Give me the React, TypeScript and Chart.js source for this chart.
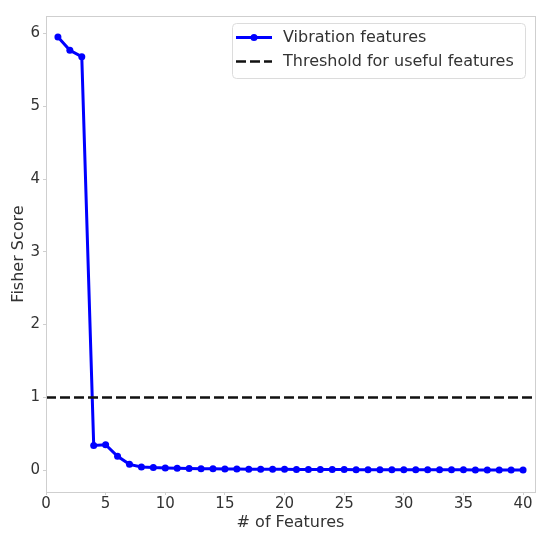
import React, { useEffect, useRef } from "react";
import { Chart, registerables } from "chart.js";

Chart.register(...registerables);

const featureCounts = [
  1, 2, 3, 4, 5, 6, 7, 8, 9, 10, 11, 12, 13, 14, 15, 16, 17, 18, 19, 20,
  21, 22, 23, 24, 25, 26, 27, 28, 29, 30, 31, 32, 33, 34, 35, 36, 37, 38, 39, 40,
];
const fisherScores = [
  5.95, 5.77, 5.68, 0.34, 0.35, 0.19, 0.08, 0.045, 0.035, 0.03,
  0.026, 0.023, 0.021, 0.019, 0.017, 0.015, 0.014, 0.013, 0.012, 0.011,
  0.01, 0.009, 0.009, 0.008, 0.008, 0.007, 0.007, 0.006, 0.006, 0.005,
  0.005, 0.005, 0.004, 0.004, 0.004, 0.003, 0.003, 0.003, 0.002, 0.002,
];
const thresholdValue = 1;
const thresholdSpan = [0, 41];
const xTickValues = [0, 5, 10, 15, 20, 25, 30, 35, 40];
const yTickValues = [0, 1, 2, 3, 4, 5, 6];
const seriesLabels = ["Vibration features", "Threshold for useful features"];
const axisTitles = { x: "# of Features", y: "Fisher Score" };

export default function App() {
  const ref = useRef<HTMLCanvasElement>(null);

  useEffect(() => {
    document.body.style.margin = "0";
    const FONT = "'DejaVu Sans', sans-serif";
    const TEXT = "#333333";
    const FRAME = "#cfcfcf";

    const framePlugin = {
      id: "frame",
      afterDatasetsDraw(chart: any) {
        const { ctx, chartArea: a } = chart;
        ctx.save();
        ctx.strokeStyle = FRAME;
        ctx.lineWidth = 1;
        const l = Math.round(a.left) + 0.5;
        const t = Math.round(a.top) + 0.5;
        const r = Math.round(a.right) + 0.5;
        const b = Math.round(a.bottom) + 0.5;
        ctx.strokeRect(l, t, r - l, b - t);
        ctx.restore();
      },
    };

    const legendPlugin = {
      id: "customLegend",
      afterDraw(chart: any) {
        const { ctx, chartArea: a } = chart;
        const w = 293;
        const h = 55;
        const x = a.right - 10 - w;
        const y = a.top + 7;
        ctx.save();
        ctx.beginPath();
        (ctx as any).roundRect(x + 0.5, y + 0.5, w, h, 4);
        ctx.fillStyle = "rgba(255,255,255,0.85)";
        ctx.fill();
        ctx.strokeStyle = "#dcdcdc";
        ctx.lineWidth = 1;
        ctx.stroke();
        chart.data.datasets.forEach((ds: any, i: number) => {
          const yr = y + 14.5 + i * 24;
          ctx.beginPath();
          ctx.setLineDash(ds.borderDash || []);
          ctx.strokeStyle = ds.borderColor;
          ctx.lineWidth = ds.borderWidth;
          ctx.moveTo(x + 4, yr);
          ctx.lineTo(x + 40, yr);
          ctx.stroke();
          ctx.setLineDash([]);
          if (ds.pointRadius > 0) {
            ctx.beginPath();
            ctx.arc(x + 22, yr, ds.pointRadius, 0, Math.PI * 2);
            ctx.fillStyle = ds.pointBackgroundColor;
            ctx.fill();
          }
          ctx.fillStyle = TEXT;
          ctx.font = `16px ${FONT}`;
          ctx.textBaseline = "middle";
          ctx.textAlign = "left";
          ctx.fillText(ds.label, x + 51, yr);
        });
        ctx.restore();
      },
    };

    const chart = new Chart(ref.current as HTMLCanvasElement, {
      type: "line",
      data: {
        datasets: [
          {
            label: seriesLabels[0],
            data: featureCounts.map((x, i) => ({ x, y: fisherScores[i] })),
            borderColor: "#0000ff",
            backgroundColor: "#0000ff",
            pointBackgroundColor: "#0000ff",
            pointBorderColor: "#0000ff",
            borderWidth: 3,
            pointRadius: 3.5,
            pointBorderWidth: 0,
            tension: 0,
            order: 1,
          },
          {
            label: seriesLabels[1],
            data: thresholdSpan.map((x) => ({ x, y: thresholdValue })),
            borderColor: "#111111",
            backgroundColor: "#111111",
            borderWidth: 2.5,
            borderDash: [10, 4],
            pointRadius: 0,
            tension: 0,
            order: 0,
          },
        ],
      },
      options: {
        responsive: false,
        animation: false,
        events: [],
        layout: { padding: { left: 6, top: 16, right: 15, bottom: 15.8 } },
        plugins: { legend: { display: false }, tooltip: { enabled: false } },
        font: { family: FONT },
        scales: {
          x: {
            type: "linear",
            min: 0,
            max: 41,
            afterBuildTicks: (s: any) => {
              s.ticks = xTickValues.map((v) => ({ value: v }));
            },
            border: { display: false },
            grid: { drawOnChartArea: false, drawTicks: true, tickLength: 3, color: FRAME },
            ticks: { color: TEXT, font: { family: FONT, size: 15 }, padding: 0, maxRotation: 0 },
            title: {
              display: true,
              text: axisTitles.x,
              color: TEXT,
              font: { family: FONT, size: 16 },
              padding: { top: 0, bottom: 0 },
            },
          },
          y: {
            type: "linear",
            min: -0.3,
            max: 6.24,
            afterBuildTicks: (s: any) => {
              s.ticks = yTickValues.map((v) => ({ value: v }));
            },
            afterFit: (s: any) => {
              s.width = 40;
            },
            border: { display: false },
            grid: { drawOnChartArea: false, drawTicks: true, tickLength: 3, color: FRAME },
            ticks: { color: TEXT, font: { family: FONT, size: 15 }, padding: 3 },
            title: {
              display: true,
              text: axisTitles.y,
              color: TEXT,
              font: { family: FONT, size: 16 },
              padding: { top: 3.4, bottom: 2 },
            },
          },
        },
      },
      plugins: [framePlugin, legendPlugin],
    } as any);

    return () => chart.destroy();
  }, []);

  return (
    <div style={{ width: 550, height: 548, background: "#fff" }}>
      <canvas ref={ref} width={550} height={548} style={{ display: "block" }} />
    </div>
  );
}
